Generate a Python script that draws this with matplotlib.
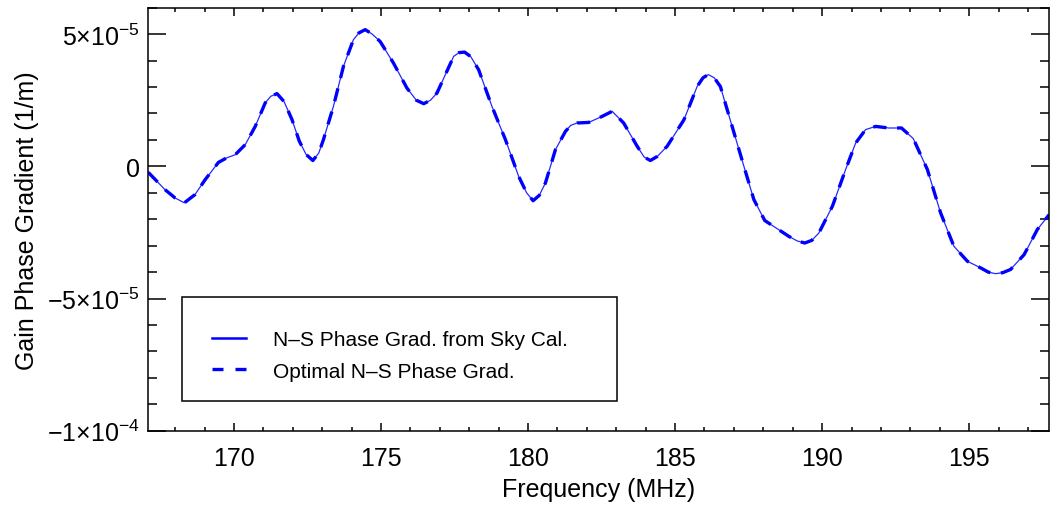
import matplotlib
matplotlib.use("Agg")
import matplotlib.pyplot as plt
from matplotlib.ticker import MultipleLocator, FixedLocator
from matplotlib.patches import Rectangle
import numpy as np

plt.rcParams['font.family'] = ['Liberation Sans', 'DejaVu Sans']
plt.rcParams['mathtext.fontset'] = 'custom'
plt.rcParams['mathtext.rm'] = 'Liberation Sans'
plt.rcParams['mathtext.it'] = 'Liberation Sans:italic'

# Frequency (MHz)
freq = [167.085, 167.65, 168.00, 168.31, 168.67, 169.02, 169.47, 169.75, 170.04, 170.38,
        170.72, 171.06, 171.25, 171.46, 171.70, 171.97, 172.22, 172.45, 172.68, 172.88,
        173.04, 173.38, 173.72, 174.06, 174.25, 174.46, 174.70, 174.97, 175.42, 175.88,
        176.20, 176.45, 176.68, 176.90, 177.47, 177.65, 177.84, 178.05, 178.32, 178.77,
        179.23, 179.68, 179.95, 180.17, 180.38, 180.59, 180.93, 181.27, 181.45, 181.67,
        182.06, 182.52, 182.86, 183.25, 183.71, 183.95, 184.16, 184.40, 184.73, 185.30,
        185.75, 185.95, 186.13, 186.33, 186.54, 186.94, 187.34, 187.68, 188.05, 188.87,
        189.15, 189.41, 189.65, 189.89, 190.35, 190.80, 191.14, 191.48, 191.82, 192.27,
        192.70, 193.10, 193.58, 194.03, 194.48, 194.94, 195.39, 195.65, 195.90, 196.15,
        196.41, 196.87, 197.32, 197.72]
# Phase gradient values in units of 1e-5 (1/m)
sky_cal = [-0.23, -0.88, -1.20, -1.38, -1.07, -0.50, 0.15, 0.32, 0.44, 0.82,
           1.51, 2.40, 2.65, 2.75, 2.45, 1.77, 0.95, 0.45, 0.22, 0.50,
           1.01, 2.27, 3.78, 4.79, 5.05, 5.17, 5.00, 4.72, 3.91, 2.96,
           2.50, 2.37, 2.50, 2.77, 4.16, 4.30, 4.32, 4.15, 3.65, 2.27,
           1.01, -0.38, -1.00, -1.30, -1.10, -0.63, 0.63, 1.32, 1.55, 1.64,
           1.66, 1.89, 2.08, 1.64, 0.76, 0.35, 0.22, 0.38, 0.76, 1.76,
           3.02, 3.35, 3.47, 3.35, 3.02, 1.51, 0.00, -1.26, -2.05, -2.65,
           -2.82, -2.90, -2.80, -2.52, -1.51, -0.12, 0.88, 1.39, 1.51, 1.45,
           1.45, 1.05, -0.12, -1.76, -3.02, -3.59, -3.84, -4.00, -4.06, -4.02,
           -3.90, -3.34, -2.39, -1.83]
optimal = list(sky_cal)

label_sky = "N\u2013S Phase Grad. from Sky Cal."
label_opt = "Optimal N\u2013S Phase Grad."
ytick_vals = [-1e-4, -5e-5, 0, 5e-5]
ytick_labels = [r'$\mathregular{-1{\times}10^{-4}}$', r'$\mathregular{-5{\times}10^{-5}}$', '0', r'$\mathregular{5{\times}10^{-5}}$']

f = np.array(freq)
v1 = np.array(sky_cal) * 1e-5
v2 = np.array(optimal) * 1e-5

fig = plt.figure(figsize=(10.5, 5.06), dpi=100)
ax = fig.add_axes([0.141, 0.1468, 0.858, 0.836])

ax.plot(f, v1, color='#0000ff', lw=0.9, alpha=0.85, solid_joinstyle='round')
ax.plot(f, v2, color='#0000ff', lw=2.4, dashes=(4, 3.2), dash_joinstyle='round')

# legend proxies
h1, = ax.plot([], [], color='#0000ff', lw=1.8, label=label_sky)
h2, = ax.plot([], [], color='#0000ff', lw=2.4, dashes=(3.3, 3.6), label=label_opt)

ax.set_xlim(167.075, 197.715)
ax.set_ylim(-1.0e-4, 6e-5)

ax.xaxis.set_major_locator(MultipleLocator(5))
ax.xaxis.set_minor_locator(MultipleLocator(1))
ax.yaxis.set_major_locator(FixedLocator(ytick_vals))
ax.yaxis.set_minor_locator(MultipleLocator(1e-5))
ax.set_yticklabels(ytick_labels)

ax.tick_params(axis='both', which='both', direction='in', top=True, right=True,
               width=1.1, labelsize=18, colors='black')
ax.tick_params(axis='x', which='major', length=6, pad=11)
ax.tick_params(axis='x', which='minor', length=3)
ax.tick_params(axis='y', which='major', length=13, pad=6)
ax.tick_params(axis='y', which='minor', length=6.5)
for s in ax.spines.values():
    s.set_linewidth(1.1)

ax.set_xlabel("Frequency (MHz)", fontsize=18, labelpad=5)
ax.set_ylabel("Gain Phase Gradient (1/m)", fontsize=18, labelpad=6)

ax.add_patch(Rectangle((0.0374, 0.0695), 0.4831, 0.2459, transform=ax.transAxes,
                       fill=False, edgecolor='black', lw=1.1, zorder=5))
leg = ax.legend(handles=[h1, h2], loc='upper left', bbox_to_anchor=(0.071, 0.2385),
                frameon=False, fontsize=15, handlelength=1.63, handletextpad=1.3,
                labelspacing=0.62, borderaxespad=0, borderpad=0)

fig.savefig("out.png", dpi=100)
